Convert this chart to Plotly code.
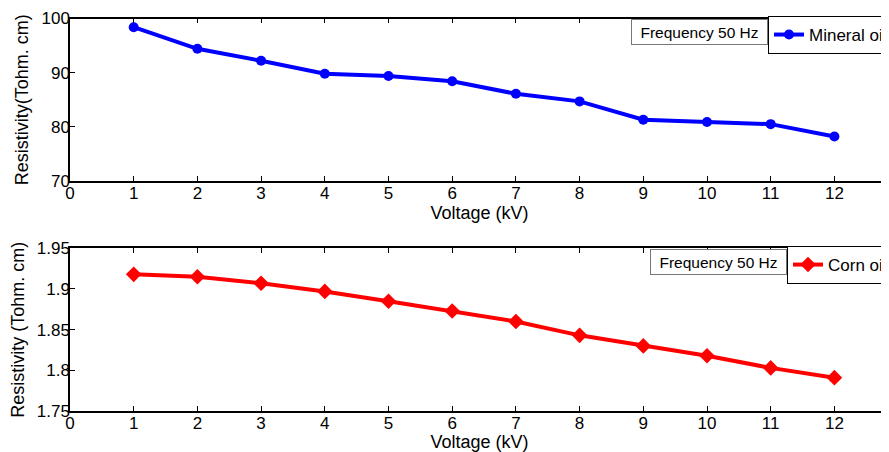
import plotly.graph_objects as go

voltage = [1, 2, 3, 4, 5, 6, 7, 8, 9, 10, 11, 12]
mineral_oil = [98.4, 94.4, 92.2, 89.8, 89.4, 88.4, 86.1, 84.7, 81.3, 80.9, 80.5, 78.2]
corn_oil = [1.918, 1.915, 1.907, 1.897, 1.885, 1.873, 1.860, 1.843, 1.830, 1.818, 1.803, 1.791]
x_ticks = list(range(0, 13))
top_y_ticks = [70, 80, 90, 100]
bottom_y_ticks = [1.75, 1.8, 1.85, 1.9, 1.95]
bottom_y_labels = ["1.75", "1.8", "1.85", "1.9", "1.95"]

# the page body adds an 8px offset, so the figure is sized to the visible window
OFF = 8
W, H = 889 - OFF, 452 - OFF
ML, MR, MT, MB = 70 - OFF, 0, 18 - OFF, 41
PW, PH = W - ML - MR, H - MT - MB
FONT = "Liberation Sans, Arial, sans-serif"


def px_x(px):
    return (px - OFF - ML) / PW


def px_y_free(py):
    return (H - MB - (py - OFF)) / PH


def px_y(py):
    return min(1.0, max(0.0, px_y_free(py)))


fig = go.Figure()
fig.add_trace(go.Scatter(
    x=voltage, y=mineral_oil, name="Mineral oil", mode="lines+markers",
    line=dict(color="#0000ff", width=4), marker=dict(symbol="circle", size=10, color="#0000ff"),
    xaxis="x", yaxis="y", legend="legend"))
fig.add_trace(go.Scatter(
    x=voltage, y=corn_oil, name="Corn oil", mode="lines+markers",
    line=dict(color="#ff0000", width=4), marker=dict(symbol="diamond", size=12, color="#ff0000"),
    xaxis="x2", yaxis="y2", legend="legend2"))

xrange = [0, PW / 63.7]

axis_common = dict(
    showgrid=False, zeroline=False, showline=True, linecolor="black", linewidth=1.5,
    ticks="inside", ticklen=5, tickcolor="black", tickwidth=1, automargin=False,
    tickfont=dict(family=FONT, size=17, color="black"),
)
xtitle = dict(text="Voltage (kV)", font=dict(family=FONT, size=18), standoff=3)

fig.update_layout(
    width=W, height=H, autosize=False,
    margin=dict(l=ML, r=MR, t=MT, b=MB, autoexpand=False),
    paper_bgcolor="white", plot_bgcolor="white",
    font=dict(family=FONT, color="black"),
    xaxis=dict(domain=[0, 1], range=xrange, tickvals=x_ticks, mirror="ticks", anchor="y",
               ticklabelstandoff=-4, title=xtitle, **axis_common),
    yaxis=dict(domain=[px_y(181), px_y(18.5)], range=[70, 100], tickvals=top_y_ticks, anchor="x",
               ticklabelstandoff=-5,
               title=dict(text="Resistivity(Tohm. cm)", font=dict(family=FONT, size=18), standoff=8),
               **axis_common),
    xaxis2=dict(domain=[0, 1], range=xrange, tickvals=x_ticks, mirror="ticks", anchor="y2",
                ticklabelstandoff=-4, title=xtitle, **axis_common),
    yaxis2=dict(domain=[px_y(411.3), px_y(248.3)], range=[1.75, 1.95], tickvals=bottom_y_ticks,
                ticktext=bottom_y_labels, anchor="x2", ticklabelstandoff=-5,
                title=dict(text="Resistivity (Tohm. cm)", font=dict(family=FONT, size=18), standoff=8),
                **axis_common),
    legend=dict(x=px_x(768), y=px_y_free(16), xanchor="left", yanchor="top", bgcolor="white",
                bordercolor="black", borderwidth=1, font=dict(family=FONT, size=17),
                itemwidth=30, tracegroupgap=0),
    legend2=dict(x=px_x(787), y=px_y_free(246), xanchor="left", yanchor="top", bgcolor="white",
                 bordercolor="black", borderwidth=1, font=dict(family=FONT, size=17),
                 itemwidth=30, tracegroupgap=0),
    showlegend=True,
)

for right_px, top_px in [(768, 19), (787, 249)]:
    fig.add_annotation(
        text="Frequency 50 Hz", xref="paper", yref="paper",
        x=px_x(right_px), y=px_y(top_px), xanchor="right", yanchor="top",
        showarrow=False, font=dict(family=FONT, size=15.5, color="black"),
        bgcolor="white", bordercolor="#777777", borderwidth=1, borderpad=2,
        width=131, height=20, align="center")

fig.write_html("out.html")
